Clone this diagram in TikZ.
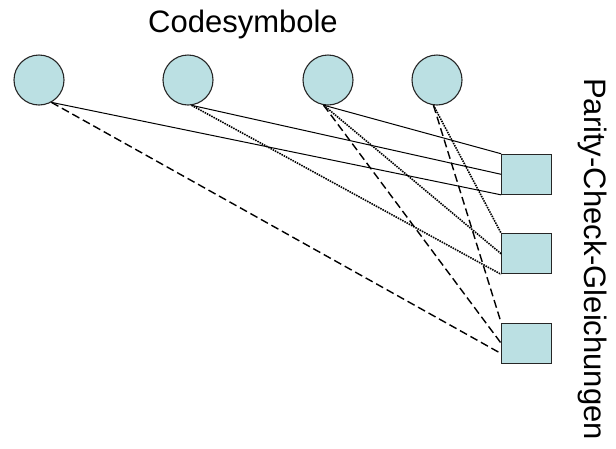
\documentclass[tikz,border=0pt]{standalone}
\usepackage{fontspec}
\setmainfont{Liberation Sans}
\usetikzlibrary{calc}
\definecolor{nodefill}{RGB}{187,224,227}
\begin{document}
\begin{tikzpicture}[x=1pt,y=-1pt,
  sym/.style={circle,draw=black!85,line width=1.1pt,fill=nodefill,minimum size=50pt,inner sep=0pt},
  chk/.style={rectangle,draw=black!85,line width=1.1pt,fill=nodefill,minimum width=50pt,minimum height=40pt,inner sep=0pt},
  solidedge/.style={line width=1pt},
  dottededge/.style={line width=1.6pt,dash pattern=on 1.5pt off 1pt},
  dashededge/.style={line width=1.4pt,dash pattern=on 8pt off 4pt},
  lbl/.style={font=\fontsize{31}{36}\selectfont,inner sep=0pt}
]
\useasboundingbox (0,0) rectangle (616,448);
\node[sym] (c1) at (39,80) {};
\node[sym] (c2) at (188,80) {};
\node[sym] (c3) at (328,80) {};
\node[sym] (c4) at (437,80) {};
\node[chk] (s1) at (526.7,174.3) {};
\node[chk] (s2) at (526.7,253.8) {};
\node[chk] (s3) at (526.7,343.3) {};
\coordinate (p1) at (c1.-61);
\coordinate (p2) at (c2.-82);
\coordinate (p3) at (c3.-100);
\coordinate (p4) at (c4.-98);
\coordinate (q3) at ($(s3.south west)!0.25!(s3.north west)$);
% solid
\draw[solidedge] (p1) -- (s1.south west);
\draw[solidedge] (p2) -- (s1.west);
\draw[solidedge] (p3) -- (s1.north west);
% dotted
\draw[dottededge] (p2) -- (s2.south west);
\draw[dottededge] (p3) -- (s2.west);
\draw[dottededge] (p4) -- (s2.north west);
% dashed
\draw[dashededge] (p1) -- (q3);
\draw[dashededge] (p3) -- (s3.west);
\draw[dashededge] (p4) -- (s3.north west);
\node[lbl,anchor=base] (t1) at (243,32.5) {Codesymbole};
\node[lbl,anchor=base,rotate=-90] (t2) at (584,259) {Parity-Check-Gleichungen};
\end{tikzpicture}
\end{document}
